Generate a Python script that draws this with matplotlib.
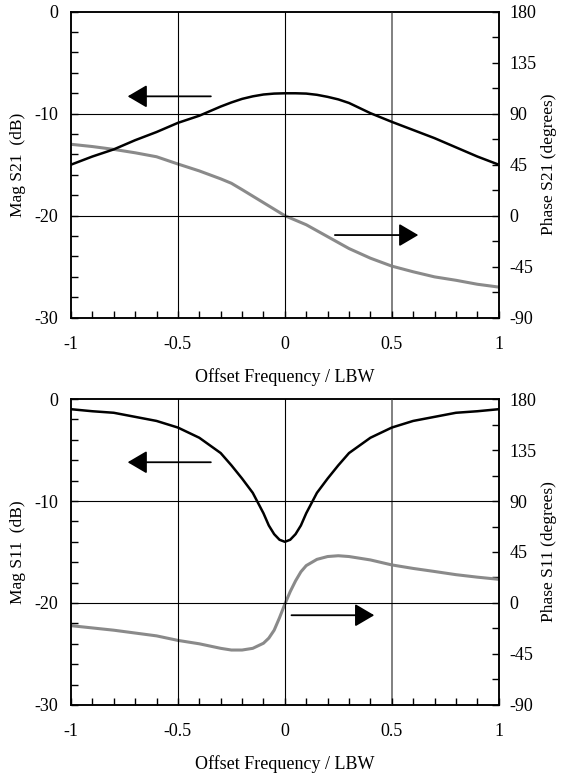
import matplotlib
matplotlib.use('Agg')
import matplotlib.pyplot as plt
from matplotlib.ticker import MultipleLocator, FuncFormatter

plt.rcParams['font.family'] = ['Liberation Serif', 'DejaVu Serif']
plt.rcParams['font.size'] = 13
plt.rcParams['axes.unicode_minus'] = False

# S21 (upper panel)
x21 = [-1.0, -0.9, -0.8, -0.7, -0.6, -0.5, -0.4, -0.3, -0.25, -0.2, -0.15, -0.1, -0.05,
       0.0, 0.05, 0.1, 0.15, 0.2, 0.25, 0.3, 0.4, 0.5, 0.6, 0.7, 0.8, 0.9, 1.0]
mag21 = [-15.0, -14.2, -13.5, -12.6, -11.8, -10.9, -10.2, -9.3, -8.9, -8.55, -8.3, -8.12, -8.03,
         -8.0, -8.0, -8.03, -8.15, -8.35, -8.6, -8.95, -9.95, -10.8, -11.6, -12.4, -13.3, -14.2, -15.0]
xp21 = [-1.0, -0.9, -0.8, -0.7, -0.6, -0.5, -0.4, -0.3, -0.25, -0.2, -0.1,
        0.0, 0.1, 0.2, 0.3, 0.4, 0.5, 0.6, 0.7, 0.8, 0.9, 1.0]
phase21 = [63.0, 61.0, 58.5, 55.5, 52.0, 45.6, 39.5, 32.5, 28.6, 23.0, 11.5,
           0.0, -8.0, -18.5, -29.0, -37.5, -44.5, -49.5, -54.0, -57.0, -60.5, -63.0]

# S11 (lower panel)
x11 = [-1.0, -0.9, -0.8, -0.7, -0.6, -0.5, -0.4, -0.3, -0.25, -0.2, -0.15, -0.125, -0.1,
       -0.075, -0.05, -0.025, 0.0, 0.025, 0.05, 0.075, 0.1, 0.125, 0.15, 0.2, 0.25, 0.3,
       0.4, 0.5, 0.6, 0.7, 0.8, 0.9, 1.0]
mag11 = [-1.0, -1.2, -1.35, -1.75, -2.15, -2.8, -3.8, -5.3, -6.5, -7.8, -9.2, -10.2, -11.2,
         -12.4, -13.25, -13.8, -14.0, -13.8, -13.25, -12.4, -11.2, -10.2, -9.2, -7.8, -6.5, -5.3,
         -3.8, -2.8, -2.15, -1.75, -1.35, -1.2, -1.0]
xp11 = [-1.0, -0.9, -0.8, -0.7, -0.6, -0.5, -0.4, -0.3, -0.25, -0.2, -0.15, -0.1, -0.075,
        -0.05, -0.025, 0.0, 0.025, 0.05, 0.075, 0.1, 0.15, 0.2, 0.25, 0.3, 0.4, 0.5,
        0.6, 0.7, 0.8, 0.9, 1.0]
phase11 = [-20.0, -22.0, -24.0, -26.5, -29.0, -33.0, -36.0, -40.0, -41.5, -41.5, -40.0, -35.5, -31.0,
           -24.0, -13.0, -1.0, 10.0, 19.5, 27.5, 33.0, 38.5, 41.0, 41.7, 41.0, 38.0, 33.6,
           30.5, 27.8, 25.0, 22.8, 20.9]

xticks_lab = [-1, -0.5, 0, 0.5, 1]

fmt = FuncFormatter(lambda v, p: '%g' % (round(v, 6) + 0.0))


def panel(rect, x, mag, xp, phase, maglabel, phaselabel, arrow_l, arrow_r):
    ax = fig.add_axes(rect)
    ax2 = ax.twinx()
    ax.set_zorder(ax2.get_zorder() + 1)
    ax.patch.set_visible(False)

    # grid lines
    for gx in [-0.5, 0]:
        ax.axvline(gx, color='black', lw=0.8, zorder=1)
    ax.axvline(0.5, color='#808080', lw=1.4, zorder=1)
    for gy in [-10, -20]:
        ax.axhline(gy, color='black', lw=0.8, zorder=1)

    ax2.plot(xp, phase, color='#8a8a8a', lw=2.2, solid_joinstyle='round')
    ax.plot(x, mag, color='black', lw=1.8, solid_joinstyle='round')

    ax.set_xlim(-1, 1)
    ax.set_ylim(-30, 0)
    ax2.set_ylim(-90, 180)

    ax.set_xticks(xticks_lab)
    ax.xaxis.set_minor_locator(MultipleLocator(0.1))
    ax.yaxis.set_major_locator(MultipleLocator(10))
    ax.yaxis.set_minor_locator(MultipleLocator(2))
    ax2.yaxis.set_major_locator(MultipleLocator(45))
    ax2.yaxis.set_minor_locator(MultipleLocator(22.5))
    ax.xaxis.set_major_formatter(fmt)
    ax.yaxis.set_major_formatter(fmt)
    ax2.yaxis.set_major_formatter(fmt)

    ax.tick_params(which='both', direction='in', length=5, width=1, top=False, right=False)
    ax.tick_params(axis='x', which='major', pad=13)
    ax.tick_params(axis='y', which='major', pad=9)
    ax2.tick_params(which='both', direction='in', length=5, width=1, pad=8)

    for a in (ax, ax2):
        for s in a.spines.values():
            s.set_linewidth(1.1)

    ax.set_xlabel('Offset Frequency / LBW', labelpad=11)
    ax.set_ylabel(maglabel, labelpad=6, fontsize=12.5)
    ax2.set_ylabel(phaselabel, labelpad=3, fontsize=12.5)

    style = dict(arrowstyle='-|>,head_length=0.85,head_width=0.5', color='black',
                 lw=1.3, mutation_scale=14, shrinkA=0, shrinkB=0)
    ax.annotate('', xy=arrow_l[1], xytext=arrow_l[0], arrowprops=style)
    ax.annotate('', xy=arrow_r[1], xytext=arrow_r[0], arrowprops=style)
    return ax


fig = plt.figure(figsize=(5.62, 7.79), dpi=100)

panel([0.1263, 0.5922, 0.7611, 0.3928], x21, mag21, xp21, phase21,
      'Mag S21  (dB)', 'Phase S21 (degrees)',
      ((-0.346, -8.3), (-0.735, -8.3)), ((0.234, -21.9), (0.624, -21.9)))
panel([0.1263, 0.0950, 0.7611, 0.3928], x11, mag11, xp11, phase11,
      'Mag S11  (dB)', 'Phase S11 (degrees)',
      ((-0.346, -6.2), (-0.735, -6.2)), ((0.031, -21.2), (0.418, -21.2)))

fig.savefig('out.png', dpi=100)
